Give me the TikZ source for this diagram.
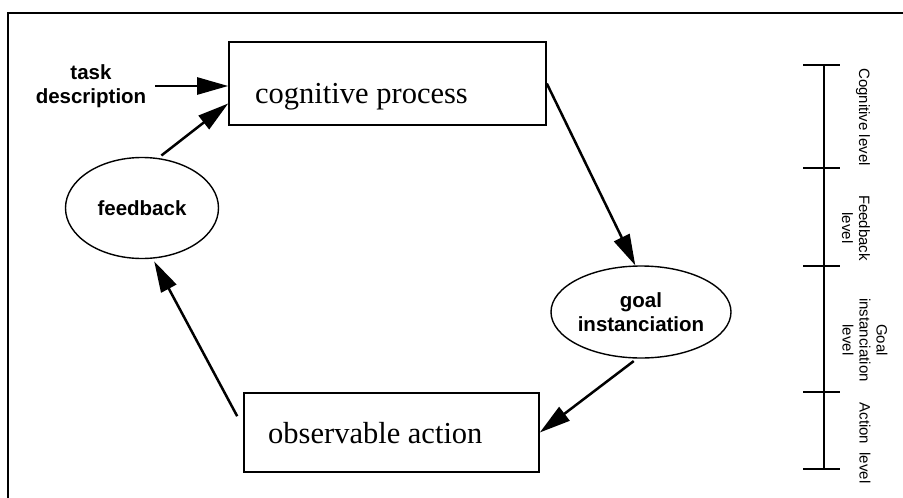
\documentclass[tikz,border=0pt]{standalone}
\usepackage{fontspec}
\setmainfont{Liberation Serif}
\setsansfont{Liberation Sans}
\usetikzlibrary{arrows.meta,shapes.geometric}

\tikzset{
  procbox/.style={draw, line width=1.6pt, rectangle, inner sep=0pt},
  boxtext/.style={font=\rmfamily\fontsize{30.5}{34}\selectfont, inner sep=0pt},
  bubble/.style={draw, line width=1.4pt, ellipse, inner sep=0pt,
    font=\sffamily\bfseries\fontsize{20.5}{23.5}\selectfont, align=center},
  plainlabel/.style={font=\sffamily\bfseries\fontsize{20.5}{24}\selectfont, align=center, inner sep=0pt},
  flow/.style={line width=2.5pt, -{Triangle[length=31pt,width=17pt]}},
  levellabel/.style={font=\sffamily\fontsize{15}{17}\selectfont, rotate=-90, align=center, inner sep=0pt},
  scaleline/.style={line width=2pt},
}

\begin{document}
\begin{tikzpicture}[x=1pt, y=-1pt]
  \useasboundingbox (0,0) rectangle (903,498);

  % outer frame (top and left edges)
  \draw[line width=2pt] (8,498) -- (8,13) -- (903,13);

  % process boxes
  \node[procbox, minimum width=317pt, minimum height=83pt] (cog) at (387.5,83.5) {};
  \node[boxtext, anchor=base west] (cogtext) at (255,103) {cognitive process};

  \node[procbox, minimum width=295pt, minimum height=79pt] (obs) at (391.5,432.5) {};
  \node[boxtext, anchor=base west] (obstext) at (268,443) {observable action};

  % ellipses
  \node[bubble, minimum width=153pt, minimum height=101pt] (fb) at (142,208) {feedback};
  \node[bubble, minimum width=180pt, minimum height=92pt] (goal) at (641,312) {goal\\instanciation};

  % external input
  \node[plainlabel] (task) at (91,86) {task\\description};

  % connectors
  \draw[flow] ([xshift=9pt]task.east) -- (task.east -| cog.west);
  \draw[flow, shorten <=4pt] (fb.72) -- ([yshift=-20pt]cog.west);
  \draw[flow] (cog.east) -- (goal.97);
  \draw[flow, shorten <=4pt] (goal.265) -- (obs.east);
  \coordinate (obsout) at ([xshift=-6pt,yshift=-24pt]obs.north west);
  \draw[flow, shorten >=3pt] (obsout) -- (fb.282);

  % level scale on the right
  \coordinate (s0) at (824,65);
  \coordinate (s1) at (824,168);
  \coordinate (s2) at (824,266);
  \coordinate (s3) at (824,392);
  \coordinate (s4) at (824,469);
  \draw[scaleline] (s0) -- (s4);
  \foreach \p in {s0,s1,s2,s3,s4}
    \draw[scaleline] ([xshift=-21pt]\p) -- ([xshift=16pt]\p);

  \node[levellabel] (lcog) at (863,117) {Cognitive level};
  \node[levellabel] (lfb) at (856,228) {Feedback\\level};
  \node[levellabel] (lgoal) at (865,340) {Goal\\instanciation\\level};
  \node[levellabel] (lact) at (865,443) {Action\ \ level};
\end{tikzpicture}
\end{document}
